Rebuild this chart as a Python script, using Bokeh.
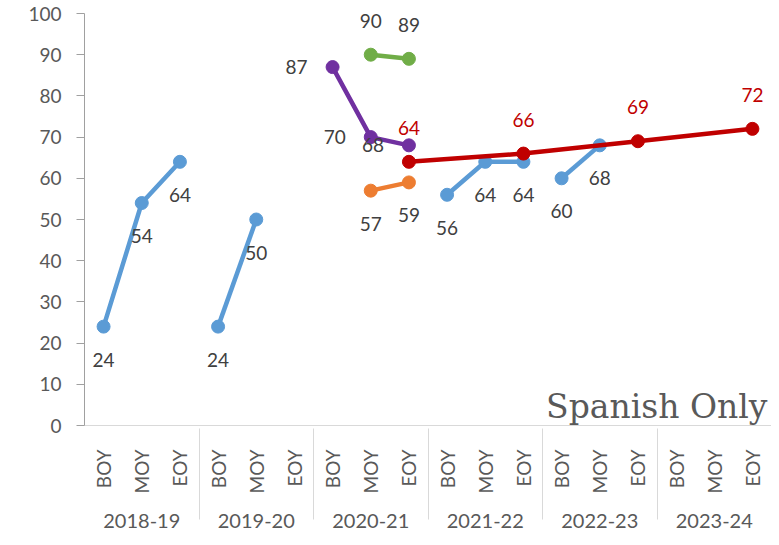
import math
from bokeh.plotting import figure
from bokeh.models import (FactorRange, ColumnDataSource, LabelSet, Label,
                          SingleIntervalTicker, Range1d)
from bokeh.core.properties import value
from bokeh.embed import file_html
from bokeh.resources import INLINE

# ---------------- data ----------------
years = ["2018-19", "2019-20", "2020-21", "2021-22", "2022-23", "2023-24"]
periods = ["BOY", "MOY", "EOY"]

blue_1819_periods = ["BOY", "MOY", "EOY"]
blue_1819_values = [24, 54, 64]

blue_1920_periods = ["BOY", "MOY"]
blue_1920_values = [24, 50]

purple_2021_periods = ["BOY", "MOY", "EOY"]
purple_2021_values = [87, 70, 68]

green_2021_periods = ["MOY", "EOY"]
green_2021_values = [90, 89]

orange_2021_periods = ["MOY", "EOY"]
orange_2021_values = [57, 59]

blue_2122_periods = ["BOY", "MOY", "EOY"]
blue_2122_values = [56, 64, 64]

blue_2223_periods = ["BOY", "MOY"]
blue_2223_values = [60, 68]

target_years = ["2020-21", "2021-22", "2022-23", "2023-24"]
target_period = "EOY"
target_values = [64, 66, 69, 72]

chart_title = "Spanish Only"

# ---------------- styles ----------------
BLUE = "#5B9BD5"
PURPLE = "#7030A0"
GREEN = "#70AD47"
ORANGE = "#ED7D31"
RED = "#C00000"
LABEL_GREY = "#404040"
AXIS_TEXT = "#595959"
FONT = "Lato"
LABEL_OFFSETS = {"below": (0, -33), "above": (0, 34), "left": (-36, 0)}

factors = [(y, q) for y in years for q in periods]

p = figure(width=771, height=537,
           x_range=FactorRange(*factors, group_padding=0, factor_padding=0,
                               subgroup_padding=0, range_padding=0),
           y_range=Range1d(0, 100),
           output_backend="svg", toolbar_location=None,
           min_border_left=84, min_border_right=0,
           min_border_top=13, min_border_bottom=112)
p.outline_line_color = None
p.xgrid.grid_line_color = None
p.ygrid.grid_line_color = None
p.background_fill_color = "white"
p.border_fill_color = "white"

# y axis
p.yaxis.ticker = SingleIntervalTicker(interval=10, num_minor_ticks=0)
p.yaxis.major_tick_out = 8
p.yaxis.major_tick_in = 0
p.yaxis.minor_tick_line_color = None
p.yaxis.axis_line_color = "#A0A0A0"
p.yaxis.major_tick_line_color = "#A0A0A0"
p.yaxis.major_label_standoff = 15
p.yaxis.major_label_text_font = FONT
p.yaxis.major_label_text_font_size = "19px"
p.yaxis.major_label_text_color = AXIS_TEXT

# x axis
xa = p.xaxis[0]
xa.axis_line_color = "#D9D9D9"
xa.major_tick_line_color = None
xa.minor_tick_line_color = None
xa.major_label_orientation = math.pi / 2
xa.major_label_standoff = 18
xa.major_label_text_font = FONT
xa.major_label_text_font_size = "19px"
xa.major_label_text_color = AXIS_TEXT
xa.group_text_font = FONT
xa.group_text_font_size = "20px"
xa.group_text_color = AXIS_TEXT
xa.group_text_font_style = "normal"
xa.separator_line_color = "#D9D9D9"
xa.separator_line_width = 1


def add_series(year_list, period_list, values, color, pos, label_color=LABEL_GREY):
    xs = [(y, q) for y, q in zip(year_list, period_list)]
    src = ColumnDataSource(dict(x=xs, y=values, t=[str(v) for v in values]))
    p.line("x", "y", source=src, line_color=color, line_width=4.5)
    p.scatter("x", "y", source=src, size=13, fill_color=color, line_color=color)
    dx, dy = LABEL_OFFSETS[pos]
    p.add_layout(LabelSet(x="x", y="y", text="t", source=src,
                          x_offset=dx, y_offset=dy,
                          text_align="center", text_baseline="middle",
                          text_font=value(FONT), text_font_size=value("19px"),
                          text_color=value(label_color)))


add_series(["2018-19"] * 3, blue_1819_periods, blue_1819_values, BLUE, "below")
add_series(["2019-20"] * 2, blue_1920_periods, blue_1920_values, BLUE, "below")
add_series(["2020-21"] * 3, purple_2021_periods, purple_2021_values, PURPLE, "left")
add_series(["2020-21"] * 2, green_2021_periods, green_2021_values, GREEN, "above")
add_series(["2020-21"] * 2, orange_2021_periods, orange_2021_values, ORANGE, "below")
add_series(["2021-22"] * 3, blue_2122_periods, blue_2122_values, BLUE, "below")
add_series(["2022-23"] * 2, blue_2223_periods, blue_2223_values, BLUE, "below")
add_series(target_years, [target_period] * len(target_years), target_values,
           RED, "above", label_color=RED)

p.add_layout(Label(x=len(factors), y=4.5, x_offset=-4, text=chart_title,
                   text_align="right", text_baseline="alphabetic",
                   text_font="DejaVu Serif", text_font_size="33px",
                   text_color=AXIS_TEXT))

open("out.html", "w").write(file_html(p, INLINE))
